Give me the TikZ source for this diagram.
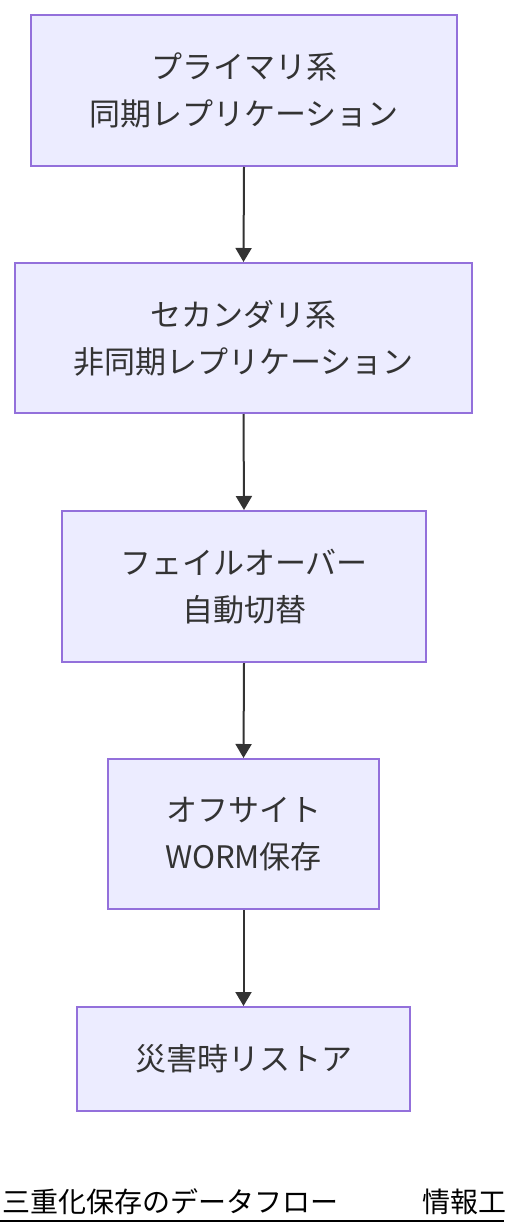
\documentclass[tikz,border=0pt]{standalone}
\usepackage{fontspec}
\setmainfont{Noto Sans CJK JP}
\usetikzlibrary{arrows.meta}
\definecolor{boxfill}{HTML}{ECECFF}
\definecolor{boxline}{HTML}{9370DB}
\definecolor{txt}{HTML}{333333}
\tikzset{
  flowbox/.style={draw=boxline, fill=boxfill, line width=2pt, text=txt, align=center,
    inner sep=0pt, font=\fontsize{31}{47}\selectfont},
  flowarrow/.style={draw=txt, line width=2pt, -{Triangle[length=14pt,width=16pt]}}
}
\begin{document}
\begin{tikzpicture}[x=1pt,y=-1pt]
\useasboundingbox (0,0) rectangle (504,1228);
\begin{scope}
\clip (0,0) rectangle (504,1228);
\node[flowbox, minimum width=426pt, minimum height=151pt] (a) at (244,90.5) {プライマリ系\\同期レプリケーション};
\node[flowbox, minimum width=457pt, minimum height=150pt] (b) at (243.5,338) {セカンダリ系\\非同期レプリケーション};
\node[flowbox, minimum width=364pt, minimum height=151pt] (c) at (244,586.5) {フェイルオーバー\\自動切替};
\node[flowbox, minimum width=271pt, minimum height=150pt] (d) at (243.5,834) {オフサイト\\WORM保存};
\node[flowbox, minimum width=333pt, minimum height=104pt] (e) at (243.5,1059) {災害時リストア};
\draw[flowarrow] (a.south) -- (b.north);
\draw[flowarrow] (b.south) -- (c.north);
\draw[flowarrow] (c.south) -- (d.north);
\draw[flowarrow] (d.south) -- (e.north);
\node[anchor=base west, inner sep=0pt, font=\fontsize{28}{34}\selectfont, text=black] (t) at (2,1212) {三重化保存のデータフロー\hspace{84pt}情報工};
\draw[black, line width=2pt] (0,1221) coordinate (u1) -- (504,1221) coordinate (u2);
\end{scope}
\end{tikzpicture}
\end{document}
